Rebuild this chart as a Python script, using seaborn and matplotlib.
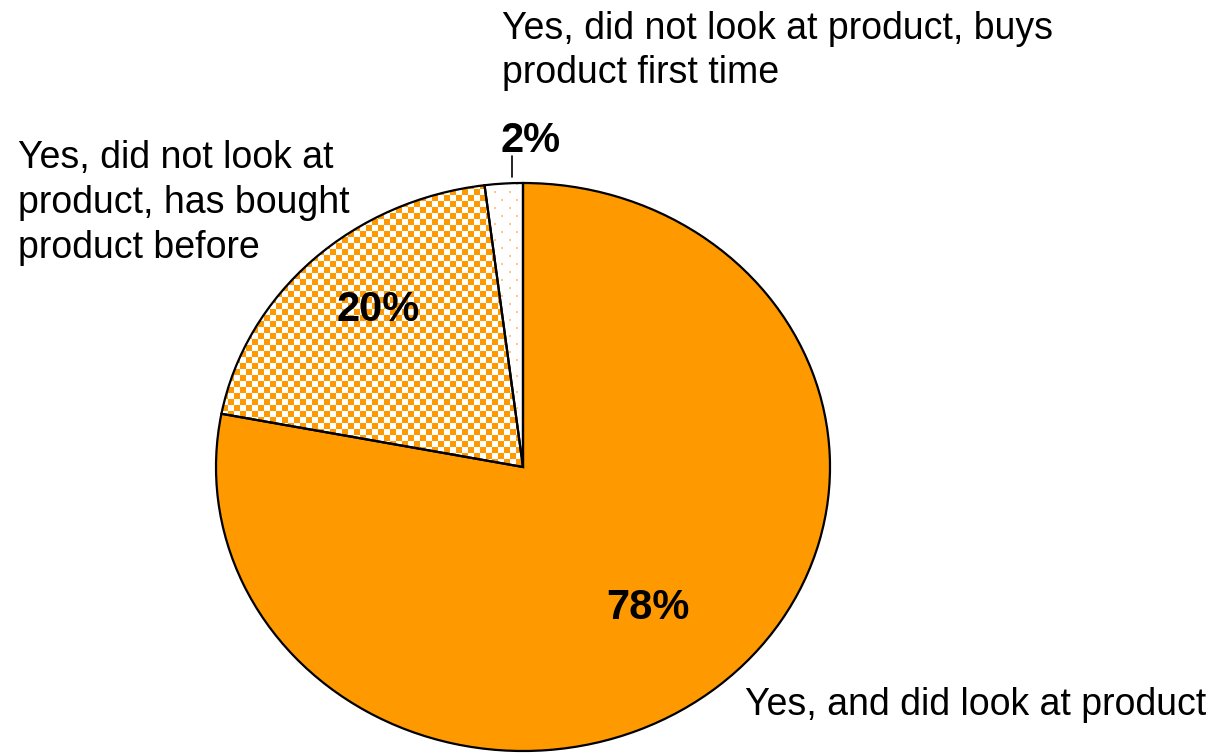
import numpy as np
import matplotlib
matplotlib.use("Agg")
import matplotlib.pyplot as plt
from matplotlib.lines import Line2D
import seaborn as sns

# Survey answers and their shares (percent)
categories = [
    "Yes, and did look at product",
    "Yes, did not look at product, has bought product before",
    "Yes, did not look at product, buys product first time",
]
shares = [78, 20, 2]

# Label lines for each category (wrapped as shown)
label_lines = [
    ["Yes, and did look at product"],
    ["Yes, did not look at", "product, has bought", "product before"],
    ["Yes, did not look at product, buys", "product first time"],
]

sns.set_theme(style="white")
plt.rcParams["font.family"] = ["Liberation Sans", "DejaVu Sans"]

ORANGE = "#FF9900"
DOT = "#FFC880"

W, H = 1212, 754
fig = plt.figure(figsize=(W / 100, H / 100), dpi=100)
fig.patch.set_facecolor("white")

# Pie area in pixels: left, top, width, height
px_l, px_t, px_w, px_h = 216, 183, 614, 568
ax = fig.add_axes([px_l / W, 1 - (px_t + px_h) / H, px_w / W, px_h / H])

wedges, _ = ax.pie(
    shares,
    startangle=90,
    counterclock=False,
    colors=[ORANGE, "none", "none"],
    wedgeprops=dict(edgecolor="black", linewidth=1.6, zorder=3),
    radius=1.0,
)
ax.set_aspect("auto")
ax.set_xlim(-1, 1)
ax.set_ylim(-1, 1)
ax.axis("off")

# Fill patterns, built on the pixel grid of the pie area
yy, xx = np.mgrid[0:px_h, 0:px_w]
cell = 6
checker = ((xx // cell + yy // cell) % 2 == 0)
white = np.array([1.0, 1.0, 1.0])
orange_rgb = np.array(matplotlib.colors.to_rgb(ORANGE))
dot_rgb = np.array(matplotlib.colors.to_rgb(DOT))

checker_img = np.where(checker[..., None], orange_rgb, white)

sx, sy = 15, 8
row = yy // sy
shift = (row % 2) * (sx // 2)
dots = (((xx + shift) % sx) < 2) & ((yy % sy) < 2)
dots_img = np.where(dots[..., None], dot_rgb, white)

for wedge, img in [(wedges[1], checker_img), (wedges[2], dots_img)]:
    im = ax.imshow(img, extent=(-1, 1, -1, 1), origin="upper",
                   interpolation="nearest", aspect="auto", zorder=2)
    im.set_clip_path(wedge)


def fx(x):
    return x / W


def fy(y):
    return 1 - y / H


LABEL_SIZE = 27
PCT_SIZE = 30

# Category labels, one text per wrapped line (left x, baselines in px)
label_pos = [
    (745, [715]),
    (18, [168, 213, 258]),
    (502, [39, 83]),
]
for lines, (x0, baselines) in zip(label_lines, label_pos):
    for line, b in zip(lines, baselines):
        fig.text(fx(x0), fy(b), line, fontsize=LABEL_SIZE, color="black",
                 ha="left", va="baseline")

# Percentage labels
pct_pos = [(648, 619), (378, 321), (531, 152)]
for val, (x0, b) in zip(shares, pct_pos):
    fig.text(fx(x0), fy(b), f"{val}%", fontsize=PCT_SIZE, fontweight="bold",
             color="black", ha="center", va="baseline")

# Leader line for the small slice
fig.add_artist(Line2D([fx(512), fx(512)], [fy(156), fy(177)],
                      color="black", linewidth=1.2))

fig.savefig("out.png", dpi=100, facecolor="white")
